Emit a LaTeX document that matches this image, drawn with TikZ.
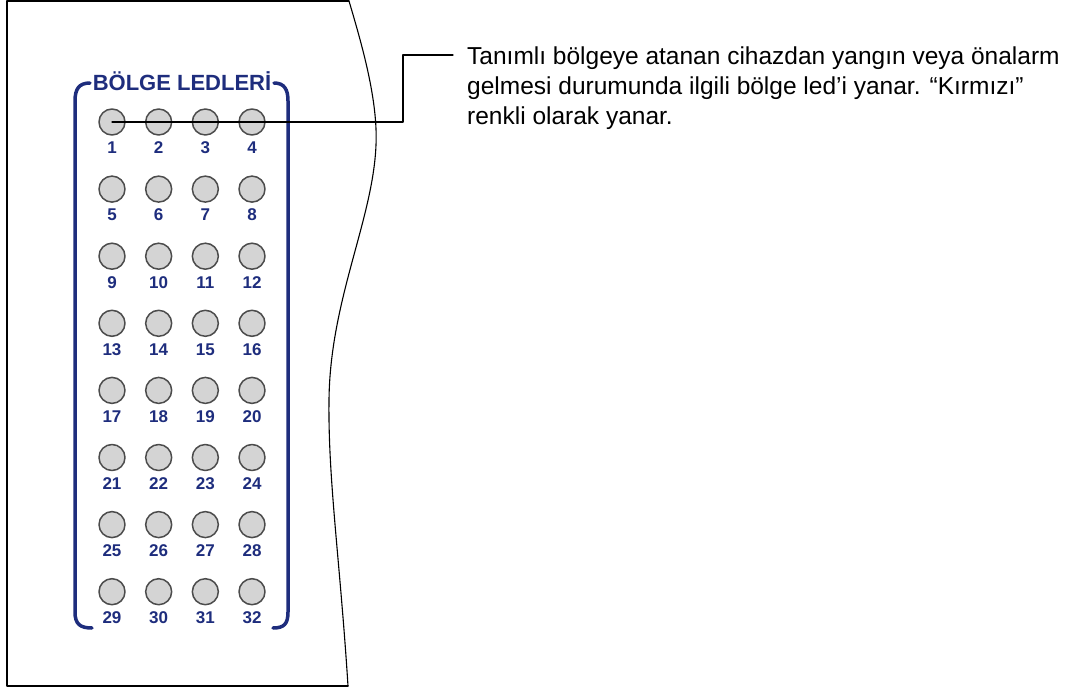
\documentclass[tikz,border=0pt]{standalone}
\usepackage{fontspec}
\setmainfont{Liberation Sans}
\usetikzlibrary{positioning}
\definecolor{zoneblue}{RGB}{30,45,125}
\definecolor{ledgray}{RGB}{212,212,212}
\begin{document}
\begin{tikzpicture}[x=1pt,y=-1pt,line join=round, line cap=round,
	led/.style={circle,draw=black!70,fill=ledgray,line width=1.5pt,minimum size=26pt,inner sep=0pt},
	num/.style={text=zoneblue,inner sep=0pt,font=\bfseries\fontsize{17}{17}\selectfont},
	brack/.style={draw=zoneblue,line width=3.5pt}]
	\useasboundingbox (0,0) rectangle (1079,690);
	% panel
	\draw[line width=1.1pt] (349,1)--(7,1)--(7,686)--(348,686);
	\draw[line width=1.1pt] (349,1) .. controls (362,45) and (378,100) .. (376,145)
		.. controls (373,220) and (330,300) .. (329,400)
		.. controls (328,480) and (340,560) .. (348,686);
	% bracket and title
	\draw[brack] (90,83) .. controls (79,83) and (75,89) .. (75,101)--(75,612) .. controls (75,624) and (80,628) .. (92,628);
	\draw[brack] (274,83) .. controls (284,83) and (288,89) .. (288,101)--(288,612) .. controls (288,624) and (284,628) .. (273,628);
	\node[text=zoneblue,font=\bfseries\fontsize{22}{22}\selectfont,inner sep=0pt] (title) at (182,81) {BÖLGE LEDLERİ};
	% leds
	\foreach \r in {0,...,7}
		\foreach \c in {1,...,4}{
			\pgfmathtruncatemacro{\n}{4*\r+\c}
			\node[led] (l\n) at ({112+46.67*(\c-1)},{122+67.1*\r}) {};
			\node[num] (n\n) at ({112+46.67*(\c-1)},{148+67.1*\r}) {\n};
		}
	% leader
	\node[anchor=north west,inner sep=0pt,align=left,font=\fontsize{24.5}{30}\selectfont] (desc) at (467,47)
		{Tanımlı bölgeye atanan cihazdan yangın veya önalarm\\gelmesi durumunda ilgili bölge led’i yanar. “Kırmızı”\\renkli olarak yanar.};
	\coordinate (knee) at (403,122);
	\coordinate (tip) at (453,55);
	\draw[line width=1.1pt] (l1.center)--(knee)|-(tip);
\end{tikzpicture}
\end{document}
